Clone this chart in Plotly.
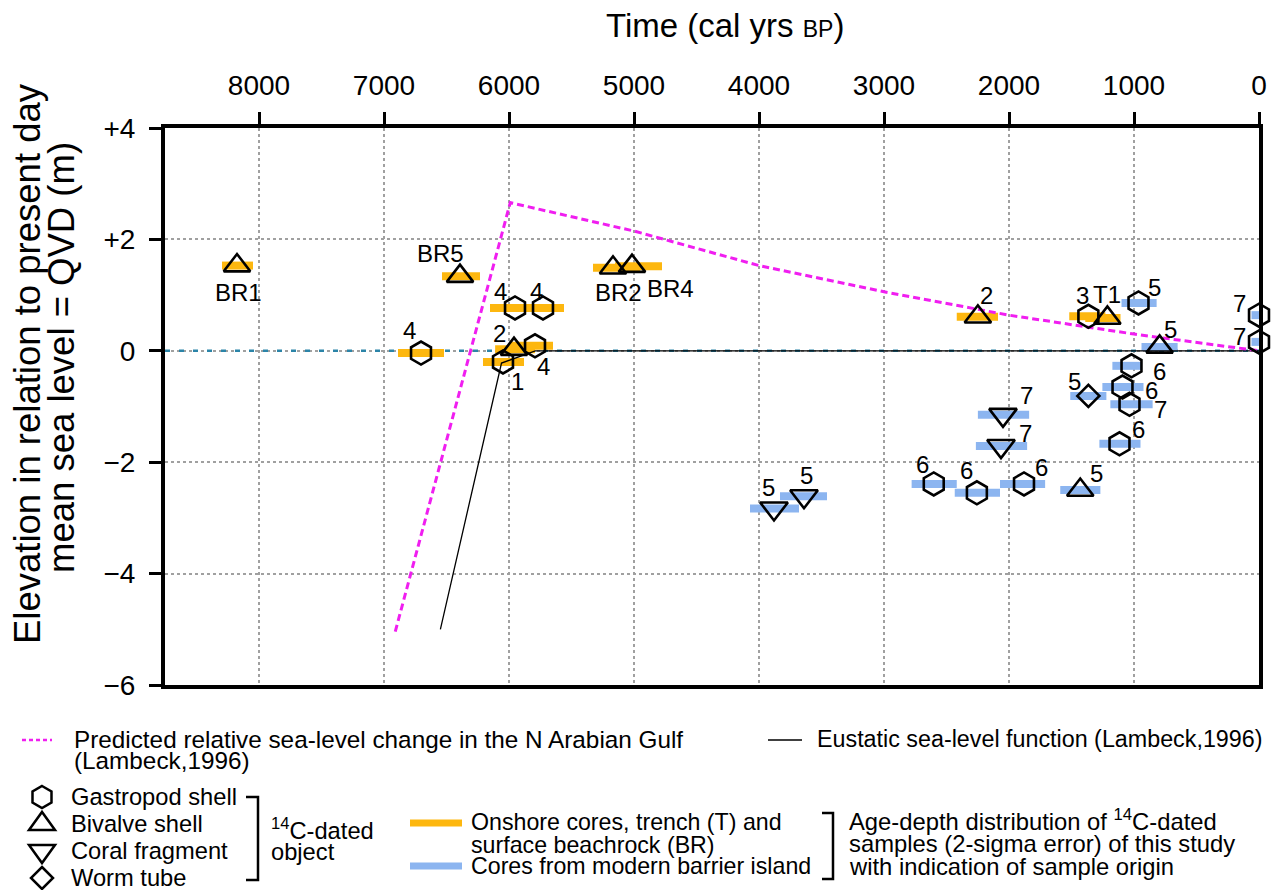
import plotly.graph_objects as go

# ------------------------------------------------------------------ data
# Predicted relative sea-level change, N Arabian Gulf (Lambeck 1996)
pred_age = [6910, 5990, 5000, 4000, 3000, 2000, 1000, 0]
pred_elev = [-5.04, 2.66, 2.15, 1.53, 1.06, 0.64, 0.30, 0.0]

# Eustatic sea-level function (Lambeck 1996)
eus_age = [6549, 6060, 5790, 0]
eus_elev = [-5.0, -0.22, 0.0, 0.0]

# 14C-dated samples
sample_label = ["BR1", "BR5", "4", "4", "4", "2", "4", "1", "BR2", "BR4",
                "2", "3", "T1", "5", "5", "7", "7", "6", "6", "5",
                "7", "7", "7", "6", "6", "6", "6", "5", "5", "5"]
sample_age = [8176, 6392, 6704, 5952, 5728, 5960, 5792, 6048, 5168, 5016,
              2249, 1365, 1213, 964, 795, 0, 0, 1020, 1092, 1365,
              1036, 2048, 2064, 1116, 2602, 2257, 1880, 1430, 3880, 3640]
sample_elev = [1.53, 1.34, -0.04, 0.77, 0.77, 0.03, 0.09, -0.20, 1.49, 1.52,
               0.61, 0.62, 0.59, 0.86, 0.07, 0.64, 0.16, -0.27, -0.65, -0.81,
               -0.96, -1.15, -1.71, -1.67, -2.39, -2.55, -2.39, -2.50, -2.83, -2.61]
age_old = [8296, 6536, 6888, 6152, 5865, 6111, 5992, 6208, 5328, 5152,
           2418, 1518, 1390, 1100, 940, 60, 60, 1173, 1253, 1510,
           1189, 2249, 2265, 1277, 2779, 2434, 2072, 1590, 4072, 3832]
age_young = [8048, 6232, 6520, 5835, 5560, 5792, 5648, 5880, 4952, 4776,
             2088, 1229, 1108, 819, 651, -60, -60, 940, 924, 1221,
             851, 1839, 1855, 948, 2418, 2072, 1711, 1269, 3680, 3456]
sample_type = ["bivalve", "bivalve", "gastropod", "gastropod", "gastropod",
               "bivalve", "gastropod", "gastropod", "bivalve", "bivalve",
               "bivalve", "gastropod", "bivalve", "gastropod", "bivalve",
               "gastropod", "gastropod", "gastropod", "gastropod", "worm",
               "gastropod", "coral", "coral", "gastropod", "gastropod",
               "gastropod", "gastropod", "bivalve", "coral", "coral"]
sample_origin = ["onshore"] * 13 + ["barrier"] * 17

x_tickvals = [8000, 7000, 6000, 5000, 4000, 3000, 2000, 1000, 0]
x_ticktext = ["8000", "7000", "6000", "5000", "4000", "3000", "2000", "1000", "0"]
y_tickvals = [4, 2, 0, -2, -4, -6]
y_ticktext = ["+4", "+2", "0", "\u22122", "\u22124", "\u22126"]

type_names = ["gastropod", "bivalve", "coral", "worm"]
type_legend = ["Gastropod shell", "Bivalve shell", "Coral fragment", "Worm tube"]

# ------------------------------------------------------------------ styles
FONT = "Liberation Sans, Arial, Helvetica, sans-serif"
ORANGE = "#FDB70F"
BLUE = "#8CB5F0"
MAGENTA = "#F01EF0"
TEAL = "#2B84A8"
SYMBOL = {"gastropod": "hexagon-open", "bivalve": "triangle-up-open",
          "coral": "triangle-down-open", "worm": "diamond-open"}
MSIZE = {"gastropod": 23, "bivalve": 23, "coral": 24, "worm": 17}
ORIGIN_COLOR = {"onshore": ORANGE, "barrier": BLUE}

# label offsets in pixels (dx right, dy down) relative to each sample marker
label_dx = [1, -20, -12, -15, -7, -15, 8, 14, 5, 38,
            9, -6, 0, 16, 11, -20, -20, 28, 29, -14,
            31, 23, 24, 19, -11, -10, 17, 16, -6, 2]
label_dy = [27, -23, -23, -16, -16, -16, 21, 20, 25, 22,
            -21, -21, -23, -15, -17, -12, -5, 6, 3, -14,
            5, -19, -13, -14, -19, -22, -16, -17, -21, -21]

# plot area in screen pixels (page body margin is removed after load)
PL, PR, PT, PB = 165, 1259, 128, 685
W, H = 1272, 890
X_LEFT = (PR - PL) * 8.0  # 125 px per 1000 years


def fx(px):
    return (px - PL) / (PR - PL)


def fy(py):
    return (PB - py) / (PB - PT)


def poly_path(cx, cy, pts):
    s = " ".join("%s %.5f,%.5f" % ("M" if i == 0 else "L", fx(cx + dx), fy(cy + dy))
                 for i, (dx, dy) in enumerate(pts))
    return s + " Z"


fig = go.Figure()

# zero reference line
fig.add_trace(go.Scatter(x=[X_LEFT, 0], y=[0, 0], mode="lines",
                         line=dict(color=TEAL, width=2.5, dash="5px,9px"),
                         hoverinfo="skip"))

# age error bars grouped by origin
for origin in ["onshore", "barrier"]:
    xs, ys = [], []
    for a0, a1, e, o in zip(age_old, age_young, sample_elev, sample_origin):
        if o == origin:
            xs += [a0, a1, None]
            ys += [e, e, None]
    fig.add_trace(go.Scatter(x=xs, y=ys, mode="lines",
                             line=dict(color=ORIGIN_COLOR[origin], width=8),
                             hoverinfo="skip"))

# sea-level curves
fig.add_trace(go.Scatter(x=eus_age, y=eus_elev, mode="lines",
                         line=dict(color="black", width=1.3)))
fig.add_trace(go.Scatter(x=pred_age, y=pred_elev, mode="lines",
                         line=dict(color=MAGENTA, width=3, dash="7px,4px")))

# sample markers grouped by material
for t in type_names:
    xs = [a for a, tt in zip(sample_age, sample_type) if tt == t]
    ys = [e for e, tt in zip(sample_elev, sample_type) if tt == t]
    fig.add_trace(go.Scatter(x=xs, y=ys, mode="markers", cliponaxis=False,
                             marker=dict(symbol=SYMBOL[t], size=MSIZE[t],
                                         color="black",
                                         line=dict(width=2.6, color="black"))))

# sample labels
for lab, a, e, dx, dy in zip(sample_label, sample_age, sample_elev, label_dx, label_dy):
    fig.add_annotation(x=a, y=e, text=lab, showarrow=False,
                       xshift=dx, yshift=-dy,
                       font=dict(size=24, color="black", family=FONT))

# ------------------------------------------------------------------ legend (below the plot)
TX = -3  # annotation padding compensation
sym_pts = {
    "gastropod": [(0, -11), (9.5, -5.5), (9.5, 5.5), (0, 11), (-9.5, 5.5), (-9.5, -5.5)],
    "bivalve": [(-13, 6), (13, 6), (0, -12)],
    "coral": [(-13, -6), (13, -6), (0, 12)],
    "worm": [(0, -11), (11, 0), (0, 11), (-11, 0)],
}
shapes = []
for i, t in enumerate(type_names):
    cy = 797 + 27 * i
    shapes.append(dict(type="path", xref="paper", yref="paper",
                       path=poly_path(42, cy, sym_pts[t]),
                       line=dict(color="black", width=2.5)))
    fig.add_annotation(xref="paper", yref="paper", x=fx(72 + TX), y=fy(cy),
                       xanchor="left", yanchor="middle", showarrow=False,
                       text=type_legend[i], font=dict(size=23.7, family=FONT))

legend_lines = [
    (75, 739, 24.3, "Predicted relative sea-level change in the N Arabian Gulf"),
    (75, 760, 24.3, "(Lambeck,1996)"),
    (818, 739, 23.3, "Eustatic sea-level function (Lambeck,1996)"),
    (272, 829, 23.7, "<sup>14</sup>C-dated"),
    (272, 852, 23.7, "object"),
    (472, 822, 23.2, "Onshore cores, trench (T) and"),
    (472, 845, 23.2, "surface beachrock (BR)"),
    (472, 866, 23.2, "Cores from modern barrier island"),
    (850, 820, 23.8, "Age-depth distribution of <sup>14</sup>C-dated"),
    (850, 843, 23.8, "samples (2-sigma error) of this study"),
    (850, 866, 23.8, "with indication of sample origin"),
]
for px, py, fs, txt in legend_lines:
    fig.add_annotation(xref="paper", yref="paper", x=fx(px + TX), y=fy(py),
                       xanchor="left", yanchor="middle", showarrow=False,
                       text=txt, font=dict(size=fs, family=FONT))

shapes += [
    dict(type="line", xref="paper", yref="paper", x0=fx(22), x1=fx(52), y0=fy(740), y1=fy(740),
         line=dict(color=MAGENTA, width=2.5, dash="4px,3px")),
    dict(type="line", xref="paper", yref="paper", x0=fx(768), x1=fx(802), y0=fy(740), y1=fy(740),
         line=dict(color="black", width=1.3)),
    dict(type="line", xref="paper", yref="paper", x0=fx(410), x1=fx(462), y0=fy(823), y1=fy(823),
         line=dict(color=ORANGE, width=7)),
    dict(type="line", xref="paper", yref="paper", x0=fx(410), x1=fx(462), y0=fy(866), y1=fy(866),
         line=dict(color=BLUE, width=7)),
    dict(type="path", xref="paper", yref="paper",
         path="M %f,%f L %f,%f L %f,%f L %f,%f" % (fx(246), fy(797), fx(258), fy(797),
                                                   fx(258), fy(880), fx(246), fy(880)),
         line=dict(color="black", width=2.5)),
    dict(type="path", xref="paper", yref="paper",
         path="M %f,%f L %f,%f L %f,%f L %f,%f" % (fx(822), fy(813), fx(833), fy(813),
                                                   fx(833), fy(879), fx(822), fy(879)),
         line=dict(color="black", width=2.5)),
]

# titles
fig.add_annotation(xref="paper", yref="paper", x=fx(725), y=fy(25),
                   xanchor="center", yanchor="middle", showarrow=False,
                   text="Time (cal yrs <span style='font-size:23px'>BP</span>)",
                   font=dict(size=33, family=FONT))
fig.add_annotation(xref="paper", yref="paper", x=fx(27), y=fy(364),
                   xanchor="center", yanchor="middle", showarrow=False, textangle=-90,
                   text="Elevation in relation to present day",
                   font=dict(size=36.5, family=FONT))
fig.add_annotation(xref="paper", yref="paper", x=fx(61), y=fy(358),
                   xanchor="center", yanchor="middle", showarrow=False, textangle=-90,
                   text="mean sea level = QVD (m)",
                   font=dict(size=36.5, family=FONT))

fig.update_layout(
    width=W, height=H,
    margin=dict(l=PL, r=W - PR, t=PT, b=H - PB, autoexpand=False),
    plot_bgcolor="white", paper_bgcolor="white",
    showlegend=False,
    font=dict(family=FONT, color="black"),
    shapes=shapes,
    xaxis=dict(range=[X_LEFT, 0], side="top", tickmode="array",
               tickvals=x_tickvals, ticktext=x_ticktext, automargin=False,
               ticks="outside", ticklen=12, tickwidth=3, tickcolor="black",
               showline=True, linewidth=4, linecolor="black", mirror=True,
               showgrid=True, gridcolor="#A0A0A0", gridwidth=2, griddash="dot",
               zeroline=False, tickfont=dict(size=28, family=FONT),
               ticklabelstandoff=6),
    yaxis=dict(range=[-6, 4], tickmode="array",
               tickvals=y_tickvals, ticktext=y_ticktext, automargin=False,
               ticks="outside", ticklen=12, tickwidth=3, tickcolor="black",
               showline=True, linewidth=4, linecolor="black", mirror=True,
               showgrid=True, gridcolor="#A0A0A0", gridwidth=2, griddash="dot",
               zeroline=False, tickfont=dict(size=28, family=FONT),
               ticklabelstandoff=8),
)

fig.write_html("out.html",
               config={"displayModeBar": False},
               post_script="document.body.style.margin='0px';"
                           "document.body.style.overflow='hidden';")
